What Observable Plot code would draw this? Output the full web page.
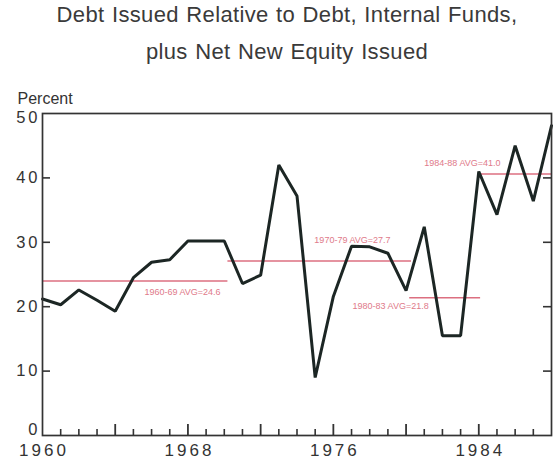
<!DOCTYPE html>
<html><head><meta charset="utf-8">
<script src="https://cdn.jsdelivr.net/npm/d3@7"></script>
<script src="https://cdn.jsdelivr.net/npm/@observablehq/plot@0.6"></script>
<style>
body{margin:0;background:#fff;font-family:"Liberation Sans",Arial,Helvetica,sans-serif;}
#title{height:68px;text-align:center;font-size:22px;line-height:36.7px;color:#3a3a3a;padding-left:16px;position:relative;top:-2.6px;white-space:nowrap;letter-spacing:0.35px;word-spacing:1px;}
#chart svg{overflow:visible;}
[aria-label="x-axis tick label"] text{letter-spacing:3px;}
[aria-label="y-axis tick label"] text{letter-spacing:3px;}
[aria-label="percent-label"] text{letter-spacing:2.4px;}
[aria-label="avg-label"] text{letter-spacing:0.2px;}
</style></head><body>
<div id="title">Debt Issued Relative to Debt, Internal Funds,<br>plus Net New Equity Issued</div>
<div id="chart"></div>
<script>
// Series
const years = [1960,1961,1962,1963,1964,1965,1966,1967,1968,1969,
               1970,1971,1972,1973,1974,1975,1976,1977,1978,1979,
               1980,1981,1982,1983,1984,1985,1986,1987,1988];
const values = [21.2,20.3,22.6,21.0,19.3,24.5,26.9,27.3,30.2,30.2,
                30.2,23.6,24.9,42.0,37.2,9.0,21.6,29.4,29.3,28.3,
                22.5,32.4,15.5,15.5,41.0,34.3,45.0,36.4,48.1];

// Period averages
const avgLabels = ["1960-69 AVG=24.6","1970-79 AVG=27.7","1980-83 AVG=21.8","1984-88 AVG=41.0"];
const avgStart = [1960, 1970.2, 1980.2, 1984.0];
const avgEnd   = [1970.2, 1980.3, 1984.1, 1988];
const avgLevel = [24.0, 27.1, 21.4, 40.6];
const noteX = [1967.7, 1977.05, 1979.15, 1983.1];
const noteY = [22.3, 30.4, 20.1, 42.3];

// Ticks
const xLabelYears = [1960, 1968, 1976, 1984];
const majorTickYears = [1964, 1968, 1972, 1976, 1980, 1984];
const minorTickYears = [1961,1962,1963,1965,1966,1967,1969,1970,1971,1973,1974,1975,1977,1978,1979,1981,1982,1983,1985,1986,1987];
const yTicks = [0, 10, 20, 30, 40, 50];
const yInnerTicks = [10, 20, 30, 40];

const data = years.map((year, i) => ({year, value: values[i]}));
const avgs = avgLabels.map((label, i) => ({label, x1: avgStart[i], x2: avgEnd[i], y: avgLevel[i], tx: noteX[i], ty: noteY[i]}));

const ink = "#333";
const plot = Plot.plot({
  width: 558,
  height: 393,
  marginTop: 45,
  marginBottom: 26,
  marginLeft: 42,
  marginRight: 7,
  style: {fontFamily: "'Liberation Sans', Arial, Helvetica, sans-serif", color: ink, background: "white", overflow: "visible"},
  x: {domain: [1960, 1988]},
  y: {domain: [0, 50]},
  marks: [
    Plot.ruleY(avgs, {x1: "x1", x2: "x2", y: "y", stroke: "#dc6f80", strokeWidth: 1.5}),
    Plot.text(avgs, {x: "tx", y: "ty", text: "label", fill: "#e07a8a", fontSize: 9, lineAnchor: "middle", ariaLabel: "avg-label"}),
    Plot.line(data, {x: "year", y: "value", stroke: "#1c2624", strokeWidth: 3, strokeLinejoin: "miter"}),
    Plot.ruleX(majorTickYears, {x: d => d, y1: 0, y2: 0, insetBottom: 11, stroke: ink, strokeWidth: 1.8}),
    Plot.ruleX(minorTickYears, {x: d => d, y1: 0, y2: 0, insetBottom: 6, stroke: ink, strokeWidth: 1.6}),
    Plot.ruleY(yInnerTicks, {y: d => d, x1: 1960, x2: 1960, insetLeft: 8, stroke: ink, strokeWidth: 1.6}),
    Plot.ruleY(yInnerTicks, {y: d => d, x1: 1988, x2: 1988, insetRight: 8, stroke: ink, strokeWidth: 1.6}),
    Plot.frame({stroke: ink, strokeWidth: 1.7}),
    Plot.axisX({ticks: xLabelYears, tickFormat: d => String(d), tickSize: 0, tickPadding: 8, fontSize: 17, dx: 1.5, label: null}),
    Plot.axisY({ticks: yInnerTicks, tickFormat: d => String(d), tickSize: 0, tickPadding: 2, fontSize: 16.5, label: null}),
    Plot.axisY({ticks: [yTicks[0]], tickFormat: d => String(d), tickSize: 0, tickPadding: 2, fontSize: 16.5, dy: -6, label: null}),
    Plot.axisY({ticks: [yTicks[5]], tickFormat: d => String(d), tickSize: 0, tickPadding: 2, fontSize: 16.5, dy: 4.5, label: null}),
    Plot.text(["Percent"], {text: d => d, frameAnchor: "top-left", textAnchor: "start", lineAnchor: "middle", dx: -25, dy: -15, fontSize: 16, fill: ink, ariaLabel: "percent-label"})
  ]
});
document.getElementById("chart").appendChild(plot);
</script>
</body></html>
